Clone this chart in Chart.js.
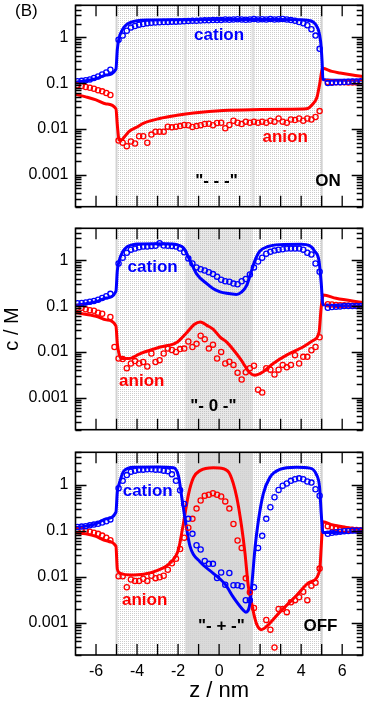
<!DOCTYPE html>
<html><head><meta charset="utf-8">
<script src="https://cdn.jsdelivr.net/npm/chart.js@4.4.1/dist/chart.umd.min.js"></script>
<style>
html,body{margin:0;padding:0;background:#fff;}
#wrap{position:relative;width:368px;height:704px;overflow:hidden;font-family:"Liberation Sans",Arial,sans-serif;}
canvas{position:absolute;left:0;}
#lab{position:absolute;left:15px;top:1px;font-size:17px;color:#000;}
</style></head><body>
<div id="wrap">
<canvas id="c1" width="368" height="212" style="top:0px"></canvas>
<canvas id="c2" width="368" height="212" style="top:223px"></canvas>
<canvas id="c3" width="368" height="257" style="top:447px"></canvas>
<div id="lab">(B)</div>
</div>
<script>
// ---------- data ----------
const zSim = [-6.9,-6.7,-6.5,-6.3,-6.1,-5.9,-5.7,-5.5,-5.3,-5.1,
 -4.9,-4.7,-4.5,-4.3,-4.1,-3.9,-3.7,-3.5,-3.3,-3.1,
 -2.9,-2.7,-2.5,-2.3,-2.1,-1.9,-1.7,-1.5,-1.3,-1.1,
 -0.9,-0.7,-0.5,-0.3,-0.1,0.1,0.3,0.5,0.7,0.9,
 1.1,1.3,1.5,1.7,1.9,2.1,2.3,2.5,2.7,2.9,
 3.1,3.3,3.5,3.7,3.9,4.1,4.3,4.5,4.7,4.9,
 5.1,5.3,5.5,5.7,5.9,6.1,6.3,6.5,6.7,6.9];

// panel "ON" ("- - -")
const onCation = [0.11,0.112,0.115,0.12,0.13,0.14,0.155,0.17,0.195,null,
 0.89,1.09,1.39,1.63,1.77,1.89,1.96,2.02,2.07,2.10,
 2.12,2.15,2.17,2.20,2.20,2.22,2.25,2.27,2.30,2.30,
 2.32,2.35,2.35,2.38,2.40,2.40,2.45,2.42,2.45,2.48,
 2.45,2.42,2.45,2.50,2.45,2.48,2.45,2.50,2.45,2.48,
 2.52,2.45,2.38,2.30,2.16,2.03,1.83,1.50,1.09,0.56,
 null,0.10,0.102,0.104,0.105,0.106,0.107,0.108,0.109,0.11];
const onAnion = [0.089,0.086,0.082,0.079,0.075,0.070,0.066,0.061,0.055,null,
 0.0056,0.0050,0.0042,0.0053,0.0048,0.0069,0.0069,0.0050,0.0075,0.0087,
 0.0087,0.0087,0.0112,0.0108,0.0112,0.0115,0.0122,0.0120,0.0110,0.0115,
 0.0120,0.0128,0.0130,0.0120,0.0135,0.0136,0.0103,0.0122,0.0151,0.0136,
 0.0128,0.0144,0.0136,0.0144,0.0136,0.0144,0.0136,0.0151,0.0144,0.0169,
 0.0144,0.0136,0.0161,0.0157,0.0169,0.0151,0.0169,0.0161,0.0182,0.0245,
 null,0.106,0.105,0.105,0.104,0.104,0.103,0.103,0.103,0.102];
const onCationTheory = [[-7,0.105],[-6.5,0.112],[-6,0.125],[-5.5,0.15],[-5.03,0.2],[-4.96,0.55],[-4.88,0.95],[-4.7,1.5],[-4.5,1.92],[-4.2,2.2],[-4,2.3],[-3.5,2.38],[-2,2.42],[0,2.45],[3,2.45],[4,2.42],[4.3,2.35],[4.58,2.16],[4.83,1.5],[4.95,0.8],[5.02,0.3],[5.06,0.12],[5.5,0.115],[7,0.115]];
const onAnionTheory = [[-7,0.057],[-6.5,0.05],[-6,0.043],[-5.5,0.035],[-5.03,0.0275],[-4.96,0.012],[-4.88,0.0058],[-4.8,0.0056],[-4.6,0.0068],[-4.4,0.0087],[-4,0.011],[-3.7,0.0132],[-2.9,0.0169],[-2.05,0.0198],[-1.25,0.0222],[0.2,0.0253],[2,0.0265],[3.5,0.027],[4.25,0.0275],[4.57,0.035],[4.77,0.049],[4.9,0.094],[5.05,0.21],[5.5,0.18],[5.9,0.166],[6.5,0.15],[7,0.14]];

// panel "- 0 -"
const midCation = [0.115,0.117,0.12,0.124,0.13,0.138,0.15,0.165,0.185,null,
 0.85,1.14,1.46,1.71,1.80,1.92,2.00,2.00,2.05,2.08,
 2.35,2.10,2.08,2.05,2.00,1.80,1.50,1.10,0.85,0.70,
 0.64,0.60,0.55,0.50,0.44,0.375,0.35,0.34,0.31,0.30,
 0.35,0.39,0.49,0.70,0.94,1.14,1.39,1.53,1.63,1.71,
 1.75,1.80,1.80,1.80,1.80,1.71,1.46,1.34,0.85,0.56,
 null,0.092,0.095,0.097,0.098,0.10,0.10,0.10,0.10,0.10];
const midAnion = [0.092,0.092,0.085,0.081,0.079,0.072,0.068,null,0.058,0.0128,
 0.0072,0.0070,0.0044,0.0056,0.0063,0.0056,0.0060,0.0048,0.0092,0.0060,
 0.0066,0.0092,0.0118,0.0110,0.0100,0.0115,0.0118,0.0169,0.0128,0.0150,
 0.0226,0.0190,0.0118,0.0144,0.0072,0.0100,0.0056,0.0061,0.0052,0.0035,
 0.0025,0.0036,0.0044,0.0050,0.0015,0.0013,0.0044,0.0041,0.0032,0.0041,
 0.0052,0.0046,0.0052,0.0085,0.0056,0.0078,0.0078,0.0109,0.0128,0.0209,
 null,0.11,0.108,0.106,0.105,0.104,0.103,0.102,0.102,0.101];
const midCationTheory = [[-7,0.105],[-6.5,0.112],[-6,0.125],[-5.5,0.15],[-5.03,0.21],[-4.96,0.6],[-4.88,0.95],[-4.7,1.55],[-4.5,1.95],[-4.2,2.2],[-4,2.27],[-3,2.3],[-2.3,2.28],[-2.0,2.15],[-1.73,1.86],[-1.41,0.97],[-1.09,0.5],[-0.6,0.31],[-0.28,0.24],[0.05,0.205],[0.37,0.19],[0.85,0.18],[1.1,0.205],[1.34,0.28],[1.53,0.5],[1.74,0.97],[1.98,1.58],[2.39,2.0],[2.95,2.2],[4,2.25],[4.41,2.1],[4.66,1.58],[4.87,0.97],[4.98,0.31],[5.06,0.107],[7,0.1]];
const midAnionTheory = [[-7,0.072],[-6,0.06],[-5.5,0.05],[-5.03,0.037],[-4.96,0.015],[-4.88,0.0092],[-4.75,0.0072],[-4.4,0.0072],[-3.84,0.0092],[-2.86,0.0128],[-2.05,0.0163],[-1.57,0.0266],[-1.2,0.04],[-0.92,0.045],[-0.6,0.038],[-0.28,0.031],[0.05,0.021],[0.37,0.0163],[1.02,0.0072],[1.5,0.0035],[1.73,0.0031],[2.15,0.0037],[2.64,0.0056],[3.29,0.0085],[4.09,0.0128],[4.58,0.0177],[4.87,0.0266],[4.98,0.098],[5.08,0.174],[5.7,0.148],[7,0.12]];

// panel "OFF" ("- + -")
const offCation = [0.12,0.122,0.125,0.13,0.135,0.14,0.15,0.16,0.175,null,
 0.83,1.20,1.60,1.89,2.00,2.10,2.10,2.15,2.15,2.10,
 2.10,2.00,1.95,1.66,1.20,0.75,0.38,0.18,0.085,0.048,
 0.039,0.022,0.019,0.019,0.0094,0.0123,0.0067,0.012,0.0065,0.0065,
 0.0062,0.0031,0.0031,0.0059,0.042,0.077,0.18,0.32,0.53,0.76,
 0.94,1.05,1.20,1.30,1.36,1.30,1.16,1.10,0.79,0.57,
 null,0.085,0.09,0.092,0.095,0.097,0.098,0.10,0.10,0.10];
const offAnion = [0.10,0.10,0.098,0.095,0.09,0.085,0.078,0.07,0.062,null,
 0.0102,0.0102,0.0059,0.0087,0.0081,0.0081,0.0090,0.0081,0.0105,0.0093,
 0.0097,0.0105,0.0141,0.0195,0.0245,0.040,0.070,0.116,0.18,0.30,
 0.45,0.57,0.60,0.65,0.60,0.55,0.43,0.30,0.139,0.061,
 0.042,0.0092,0.0046,0.0021,null,null,0.00115,0.00071,0.00029,0.0020,
 0.0020,0.0017,0.0028,0.0031,0.0036,0.0047,0.0031,0.0064,0.0074,0.015,
 null,0.125,0.12,0.115,0.11,0.108,0.105,0.104,0.103,0.102];
const offCationTheory = [[-7,0.115],[-6.5,0.125],[-6,0.14],[-5.5,0.18],[-5.03,0.25],[-4.96,0.7],[-4.88,1.0],[-4.65,1.95],[-4.16,2.38],[-3,2.4],[-2.22,2.3],[-1.98,1.53],[-1.82,0.53],[-1.65,0.17],[-1.42,0.046],[-0.93,0.021],[-0.3,0.012],[0.3,0.0068],[0.69,0.0036],[1.17,0.0019],[1.3,0.0017],[1.5,0.0026],[1.62,0.0089],[1.76,0.046],[1.92,0.17],[2.15,0.62],[2.47,1.41],[2.96,2.12],[3.77,2.38],[4.42,2.27],[4.74,1.66],[4.9,0.86],[4.98,0.23],[5.06,0.091],[7,0.095]];
const offAnionTheory = [[-7,0.091],[-6.5,0.085],[-6,0.075],[-5.5,0.06],[-5.03,0.046],[-4.96,0.0145],[-4.81,0.0118],[-4.33,0.0109],[-3.68,0.0113],[-3.03,0.0135],[-2.38,0.02],[-1.98,0.039],[-1.74,0.143],[-1.49,0.62],[-1.25,1.41],[-0.93,2.0],[-0.28,2.3],[0.21,2.2],[0.53,1.66],[0.86,0.53],[1.1,0.12],[1.26,0.033],[1.42,0.0064],[1.58,0.0028],[1.7,0.0015],[1.84,0.00091],[2.06,0.00071],[2.31,0.00083],[2.96,0.0017],[3.77,0.0039],[4.42,0.0076],[4.9,0.0135],[4.98,0.046],[5.06,0.155],[5.55,0.132],[7,0.104]];

// axes
const xTickValues = [-6,-4,-2,0,2,4,6];
const xTickLabels = ['-6','-4','-2','0','2','4','6'];
const yTickValues = [0.001,0.01,0.1,1];
const yTickLabels = ['0.001','0.01','0.1','1'];
const poreEdges = [-5, 5];
const centerEdges = [-1.65, 1.65];

// ---------- rendering ----------
const FONT = "'Liberation Sans', Arial, Helvetica, sans-serif";
Chart.defaults.font.family = FONT;
Chart.defaults.font.size = 16;
Chart.defaults.color = '#000';
const BLUE = '#0000ff', RED = '#ff0000';

function simPts(cs){ const o=[]; for(let i=0;i<zSim.length;i++){ if(cs[i]!=null) o.push({x:zSim[i],y:cs[i]}); } return o; }
function thPts(pairs){ return pairs.map(p=>({x:p[0],y:p[1]})); }

function makePattern(ctx, base, dot){
  const p=document.createElement('canvas'); p.width=2; p.height=2;
  const g=p.getContext('2d');
  g.fillStyle=base; g.fillRect(0,0,2,2);
  g.fillStyle=dot; g.fillRect(0,0,1,1);
  return ctx.createPattern(p,'repeat');
}

const decor = {
  id:'decor',
  beforeDatasetsDraw(chart, args, o){
    const {ctx, chartArea:a, scales:{x}} = chart;
    ctx.save();
    ctx.beginPath(); ctx.rect(a.left,a.top,a.width,a.height); ctx.clip();
    const x0=x.getPixelForValue(poreEdges[0]), x1=x.getPixelForValue(poreEdges[1]);
    ctx.fillStyle = makePattern(ctx,'#ffffff','#cccccc');
    ctx.fillRect(x0,a.top,x1-x0,a.height);
    const c0=x.getPixelForValue(centerEdges[0]), c1=x.getPixelForValue(centerEdges[1]);
    if(o.center==='stipple'){
      ctx.fillStyle = makePattern(ctx,'#e8e8e8','#c4c4c4');
      ctx.fillRect(c0,a.top,c1-c0,a.height);
    } else if(o.center==='solid'){
      ctx.fillStyle = makePattern(ctx,'#dadada','#d0d0d0');
      ctx.fillRect(c0,a.top,c1-c0,a.height);
    } else {
      ctx.fillStyle='#e0e0e0';
      ctx.fillRect(c0-1.5,a.top,3,a.height);
      ctx.fillRect(c1-1.5,a.top,3,a.height);
    }
    ctx.fillStyle='#d2d2d2';
    ctx.fillRect(x0-1,a.top,2,a.height);
    ctx.fillRect(x1-1,a.top,2,a.height);
    ctx.restore();
  },
  afterDatasetsDraw(chart, args, o){
    const {ctx, chartArea:a, scales:{x,y}} = chart;
    ctx.save();
    // annotations
    ctx.textAlign='center'; ctx.textBaseline='middle';
    ctx.font = 'bold 17px ' + FONT;
    (o.labels||[]).forEach(l=>{
      ctx.fillStyle=l.color;
      ctx.fillText(l.text, x.getPixelForValue(l.z), y.getPixelForValue(l.c));
    });
    // ticks
    ctx.strokeStyle='#000'; ctx.lineWidth=1.3;
    ctx.beginPath();
    for(let v=-6; v<=6; v++){
      const px=x.getPixelForValue(v);
      ctx.moveTo(px,a.top); ctx.lineTo(px,a.top+11);
      ctx.moveTo(px,a.bottom); ctx.lineTo(px,a.bottom-11);
    }
    for(let d=-4; d<=0; d++){
      for(let m=1; m<=9; m++){
        const v=m*Math.pow(10,d);
        if(v<y.min||v>y.max) continue;
        const py=Math.round(y.getPixelForValue(v))+0.5;
        const L = m===1?11:6;
        ctx.moveTo(a.left,py); ctx.lineTo(a.left+L,py);
        ctx.moveTo(a.right,py); ctx.lineTo(a.right-L,py);
      }
    }
    ctx.stroke();
    // frame
    ctx.lineWidth=1.6;
    ctx.strokeRect(a.left,a.top,a.width,a.height);
    ctx.restore();
  }
};

function lineDs(pairs,color){
  return {data:thPts(pairs), showLine:true, borderColor:color, borderWidth:3, pointRadius:0,
    cubicInterpolationMode:'monotone', fill:false, order:2};
}
function simDs(cs,color){
  return {data:simPts(cs), showLine:false, borderColor:color, backgroundColor:'rgba(0,0,0,0)',
    pointRadius:2.6, pointBorderWidth:1.3, pointStyle:'circle', order:1};
}

function makePanel(id, p){
  const last = !!p.xAxis;
  new Chart(document.getElementById(id), {
    type:'scatter',
    data:{datasets:[
      simDs(p.cation,BLUE), simDs(p.anion,RED),
      lineDs(p.cTheory,BLUE), lineDs(p.aTheory,RED)
    ]},
    plugins:[decor],
    options:{
      responsive:false, animation:false, events:[],
      layout:{padding:{top:2,right:4.5,bottom:last?0:4,left:0}},
      plugins:{legend:{display:false}, tooltip:{enabled:false},
        decor:{center:p.center, labels:p.labels}},
      scales:{
        x:{type:'linear', min:-7, max:7, display:last,
          grid:{display:false, drawTicks:false}, border:{display:false},
          afterBuildTicks:s=>{ s.ticks = xTickValues.map(v=>({value:v})); },
          ticks:{padding:7, font:{size:16}, autoSkip:false, maxRotation:0,
            callback:(v,i)=>xTickLabels[i]},
          title:{display:last, text:'z / nm', font:{size:22}, padding:0},
          afterFit:s=>{ if(last){ s.height = 49; } s.paddingLeft=0; s.paddingRight=0; }
        },
        y:{type:'logarithmic', min:2e-4, max:5,
          grid:{display:false, drawTicks:false}, border:{display:false},
          afterBuildTicks:s=>{ s.ticks = yTickValues.map(v=>({value:v})); },
          ticks:{padding:7, font:{size:16}, autoSkip:false, callback:(v,i)=>yTickLabels[i]},
          title:{display:!!p.yTitle, text:'c / M', font:{size:20}, padding:0},
          afterFit:s=>{ s.width = 75.5; s.paddingTop=0; s.paddingBottom=0; }
        }
      }
    }
  });
}

makePanel('c1',{cation:onCation, anion:onAnion, cTheory:onCationTheory, aTheory:onAnionTheory,
  center:'lines', labels:[
    {text:'cation', z:0.0, c:1.1, color:BLUE},
    {text:'anion', z:3.22, c:0.0064, color:RED},
    {text:'"- - -"', z:-0.13, c:0.00071, color:'#000'},
    {text:'ON', z:5.31, c:0.00071, color:'#000'}]});
makePanel('c2',{cation:midCation, anion:midAnion, cTheory:midCationTheory, aTheory:midAnionTheory,
  center:'stipple', yTitle:true, labels:[
    {text:'cation', z:-3.24, c:0.71, color:BLUE},
    {text:'anion', z:-3.77, c:0.0023, color:RED},
    {text:'"- 0 -"', z:-0.28, c:0.00065, color:'#000'}]});
makePanel('c3',{cation:offCation, anion:offAnion, cTheory:offCationTheory, aTheory:offAnionTheory,
  center:'solid', xAxis:true, labels:[
    {text:'cation', z:-3.48, c:0.71, color:BLUE},
    {text:'anion', z:-3.63, c:0.0031, color:RED},
    {text:'"- + -"', z:0.11, c:0.00083, color:'#000'},
    {text:'OFF', z:4.94, c:0.00083, color:'#000'}]});
</script>
</body></html>
